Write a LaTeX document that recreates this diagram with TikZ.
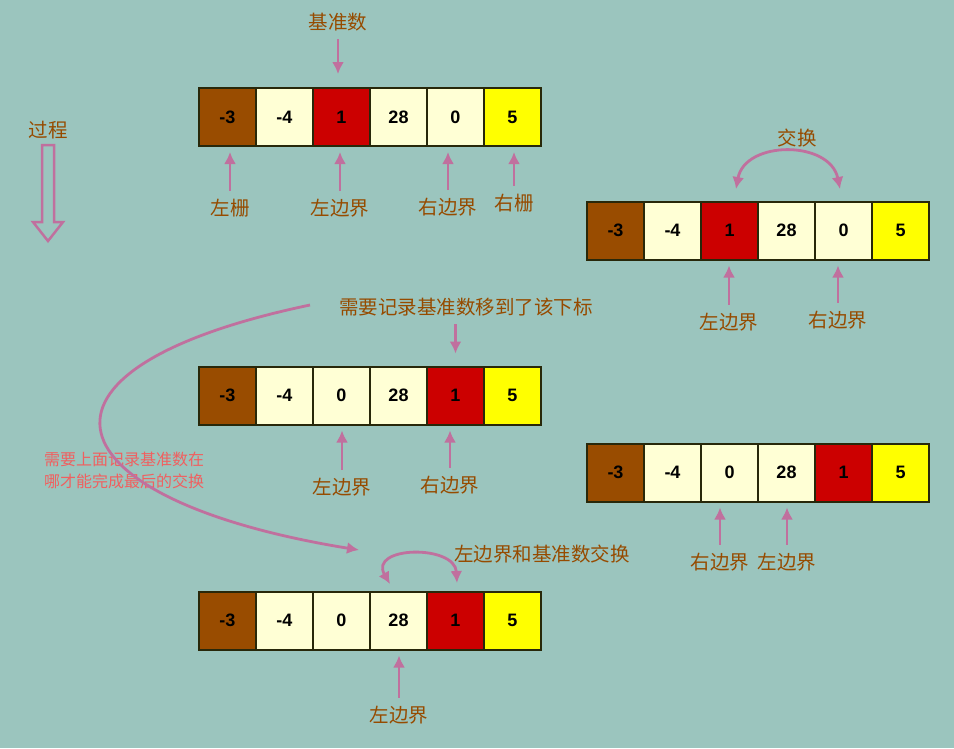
\documentclass[tikz,border=0pt]{standalone}
\usepackage{fontspec}
\setmainfont{Liberation Sans}
\newfontfamily\cjk{Noto Sans CJK SC}
\usepackage{tikz}
\usetikzlibrary{arrows.meta}

\definecolor{bgteal}{RGB}{155,197,190}
\definecolor{pivotred}{RGB}{204,0,0}
\definecolor{fencebrown}{RGB}{153,76,0}
\definecolor{cream}{RGB}{255,255,213}
\definecolor{fenceyellow}{RGB}{255,255,0}
\definecolor{arrowpink}{RGB}{192,112,158}
\definecolor{txtbrown}{RGB}{150,75,0}
\definecolor{notered}{RGB}{240,96,96}
\definecolor{cellline}{RGB}{40,40,10}

\tikzset{
	cell/.style={draw=cellline, line width=2pt, minimum width=57pt, minimum height=58pt, inner sep=0pt, font=\bfseries\fontsize{18}{18}\selectfont},
	lbl/.style={text=txtbrown, inner sep=0pt, font=\cjk\fontsize{19.5}{19.5}\selectfont},
	arr/.style={draw=arrowpink, line width=2.8pt, ->},
}

\begin{document}
\begin{tikzpicture}[x=1pt, y=-1pt, >={Latex[length=12pt,width=12pt]}]
				\fill[bgteal] (0,0) rectangle (954,748);
				\useasboundingbox (0,0) rectangle (954,748);
				
				% step 1
				\foreach \v/\c [count=\i from 0] in {-3/fencebrown,-4/cream,1/pivotred,28/cream,0/cream,5/fenceyellow}
					\node[cell, fill=\c] (a\i) at (227.5+57*\i, 117) {\v};
				\node[lbl] (pivot) at (338, 22) {基准数};
				\draw[arr, shorten <=8pt, shorten >=13pt] (pivot.south) -- (pivot.south |- a2.north);
				\node[lbl] (lfence) at (230, 208) {左栅};
				\node[lbl] (lbound1) at (340, 208) {左边界};
				\node[lbl] (rbound1) at (448, 207) {右边界};
				\node[lbl] (rfence) at (514, 203) {右栅};
				\foreach \l/\c in {lfence/a0, lbound1/a2, rbound1/a4, rfence/a5}
					\draw[arr, shorten <=8pt, shorten >=5pt] (\l.north) -- (\l.north |- \c.south);
				
				\node[lbl] (proc) at (48, 130) {过程};
				\draw[arrowpink, line width=2.5pt] (42,145) -- (54,145) -- (54,222) -- (63,222) -- (48,241) -- (33,222) -- (42,222) -- cycle;
				
				% step 2
				\foreach \v/\c [count=\i from 0] in {-3/fencebrown,-4/cream,1/pivotred,28/cream,0/cream,5/fenceyellow}
					\node[cell, fill=\c] (b\i) at (615.5+57*\i, 230.5) {\v};
				\node[lbl] (swap) at (797, 138) {交换};
				\coordinate (swapl) at (736, 189);
				\coordinate (swapr) at (840, 189);
				\draw[arr, <->] (swapl) .. controls (745, 140) and (830, 140) .. (swapr);
				\node[lbl] (lbound2) at (729, 322) {左边界};
				\node[lbl] (rbound2) at (838, 320) {右边界};
				\foreach \l/\c in {lbound2/b2, rbound2/b4}
					\draw[arr, shorten <=8pt, shorten >=5pt] (\l.north) -- (\l.north |- \c.south);
				
				% step 3
				\foreach \v/\c [count=\i from 0] in {-3/fencebrown,-4/cream,0/cream,28/cream,1/pivotred,5/fenceyellow}
					\node[cell, fill=\c] (c\i) at (227.5+57*\i, 395.5) {\v};
				\node[lbl] (memo) at (466, 307) {需要记录基准数移到了该下标};
				\draw[arr, shorten <=8pt, shorten >=12pt] (memo.south -| c4) -- (c4.north);
				\node[lbl] (lbound3) at (342, 487) {左边界};
				\node[lbl] (rbound3) at (450, 485) {右边界};
				\foreach \l/\c in {lbound3/c2, rbound3/c4}
					\draw[arr, shorten <=8pt, shorten >=5pt] (\l.north) -- (\l.north |- \c.south);
				
				\node[text=notered, inner sep=0pt, anchor=west, align=left, font=\cjk\fontsize{16}{22}\selectfont] (note) at (44, 470) {需要上面记录基准数在\\哪才能完成最后的交换};
				\coordinate (memostart) at (310, 305);
				\coordinate (memoend) at (359, 550);
				\draw[arr] (memostart) .. controls (0, 370) and (50, 500) .. (memoend);
				
				% step 4
				\foreach \v/\c [count=\i from 0] in {-3/fencebrown,-4/cream,0/cream,28/cream,1/pivotred,5/fenceyellow}
					\node[cell, fill=\c] (d\i) at (615.5+57*\i, 472.5) {\v};
				\node[lbl] (rbound4) at (720, 562) {右边界};
				\node[lbl] (lbound4) at (787, 562) {左边界};
				\foreach \l/\c in {rbound4/d2, lbound4/d3}
					\draw[arr, shorten <=8pt, shorten >=5pt] (\l.north) -- (\l.north |- \c.south);
				
				% step 5
				\foreach \v/\c [count=\i from 0] in {-3/fencebrown,-4/cream,0/cream,28/cream,1/pivotred,5/fenceyellow}
					\node[cell, fill=\c] (e\i) at (227.5+57*\i, 620.5) {\v};
				\node[lbl] (lastswap) at (542, 554) {左边界和基准数交换};
				\coordinate (lastl) at (390, 584);
				\coordinate (lastr) at (457, 583);
				\draw[arr, <->] (lastl) .. controls (368, 546) and (455, 544) .. (lastr);
				\node[lbl] (lbound5) at (399, 715) {左边界};
				\draw[arr, shorten <=8pt, shorten >=5pt] (lbound5.north) -- (lbound5.north |- e3.south);
			\end{tikzpicture}
\end{document}
